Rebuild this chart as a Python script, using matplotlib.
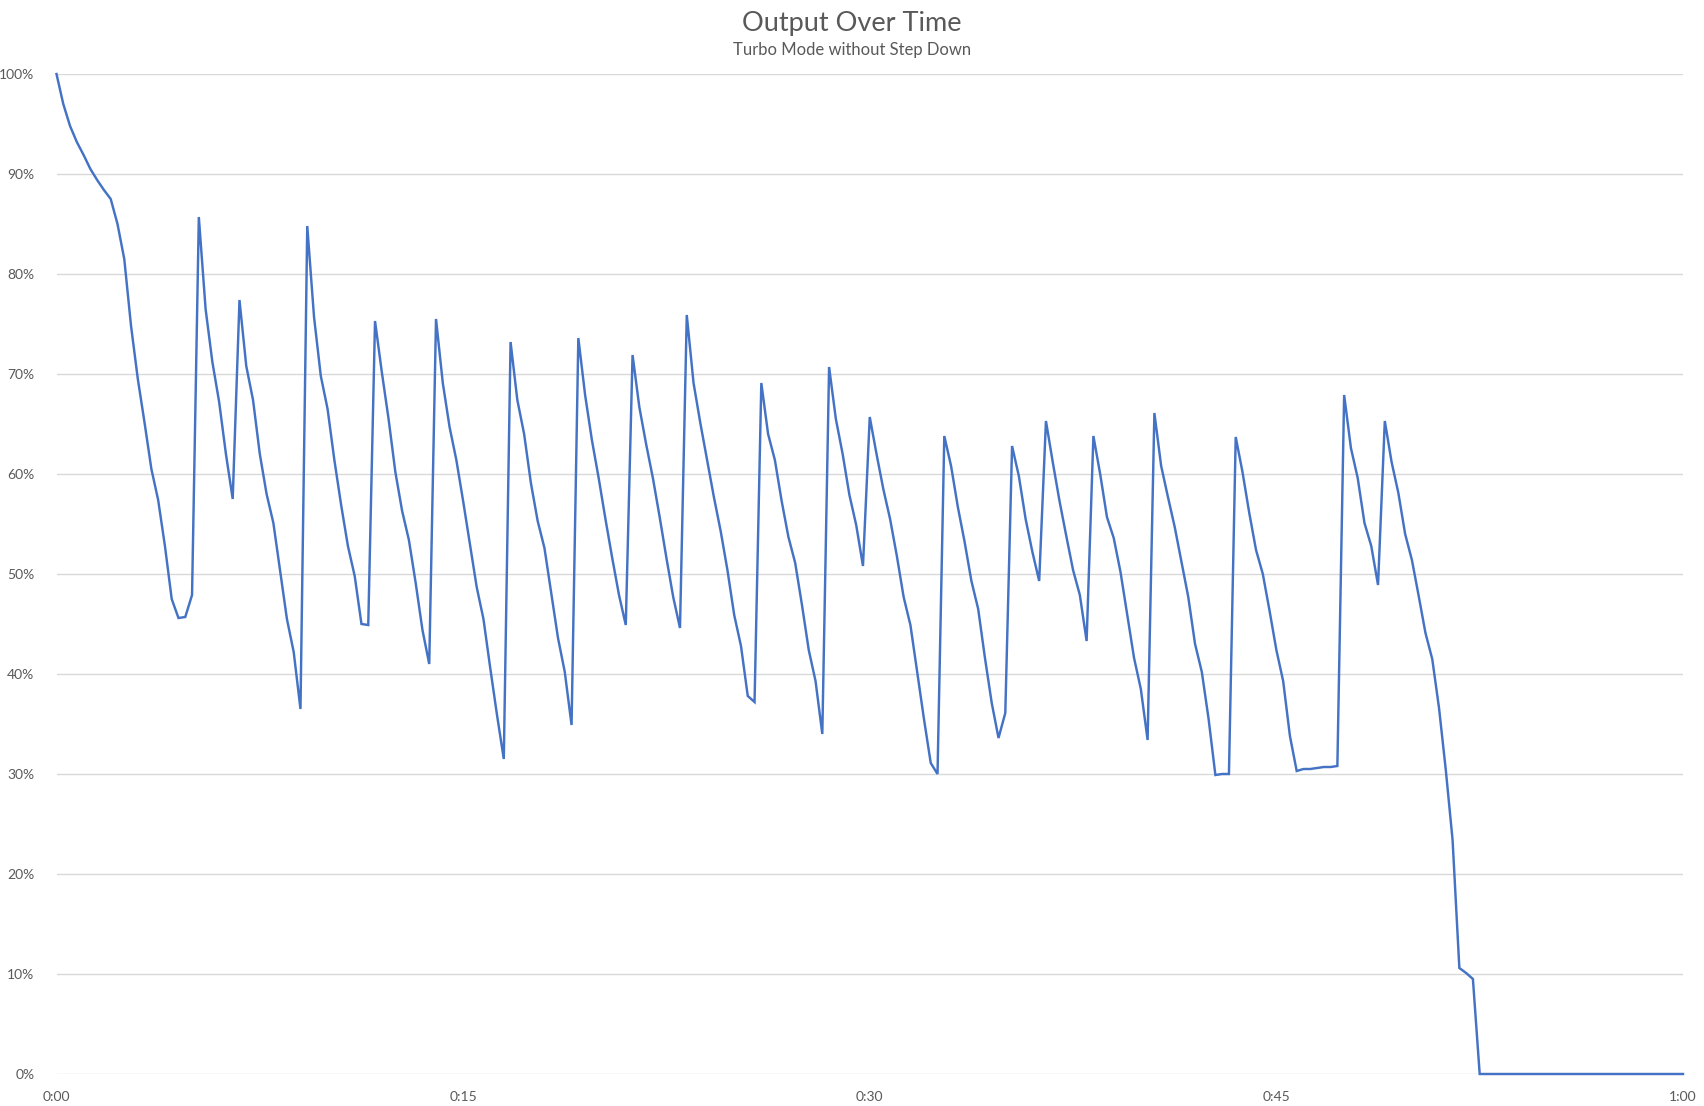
import numpy as np
import matplotlib
matplotlib.use("Agg")
import matplotlib.pyplot as plt
from matplotlib.ticker import FixedLocator, FuncFormatter

# ---- data (output %, one sample every 15 seconds) ----
output_pct = [
    100.0, 97.0, 94.8, 93.2, 91.9, 90.5, 89.4, 88.4, 87.5, 85.0,
    81.5, 74.8, 69.5, 65.1, 60.5, 57.4, 52.8, 47.5, 45.6, 45.7,
    47.9, 85.7, 76.5, 71.2, 67.2, 62.0, 57.5, 77.4, 70.8, 67.4,
    62.0, 58.0, 55.1, 50.3, 45.5, 42.2, 36.5, 84.8, 75.7, 69.8,
    66.5, 61.4, 56.9, 52.8, 49.8, 45.0, 44.9, 75.3, 70.2, 65.5,
    60.2, 56.3, 53.4, 49.1, 44.4, 41.0, 75.5, 69.1, 64.7, 61.4,
    57.3, 53.0, 48.7, 45.5, 40.6, 35.9, 31.5, 73.2, 67.4, 64.0,
    59.1, 55.3, 52.6, 48.1, 43.6, 40.2, 34.9, 73.6, 67.9, 63.4,
    59.6, 55.5, 51.6, 47.9, 44.9, 71.9, 66.7, 63.0, 59.6, 55.7,
    51.6, 47.7, 44.6, 75.9, 69.1, 65.1, 61.4, 57.7, 54.3, 50.4,
    45.9, 42.8, 37.8, 37.2, 69.1, 64.0, 61.4, 57.3, 53.7, 51.1,
    46.9, 42.4, 39.3, 34.0, 70.7, 65.5, 62.0, 57.9, 54.9, 50.8,
    65.7, 62.0, 58.5, 55.5, 51.8, 47.7, 44.9, 40.2, 35.5, 31.1,
    30.0, 63.8, 60.8, 56.7, 53.2, 49.3, 46.5, 41.6, 37.1, 33.6,
    36.1, 62.8, 59.8, 55.5, 52.2, 49.3, 65.3, 61.2, 57.3, 53.8,
    50.4, 47.9, 43.3, 63.8, 60.0, 55.7, 53.6, 50.2, 45.9, 41.6,
    38.5, 33.4, 66.1, 60.8, 57.7, 54.7, 51.2, 47.7, 43.0, 40.2,
    35.5, 29.9, 30.0, 30.0, 63.7, 60.2, 56.1, 52.4, 50.0, 46.3,
    42.4, 39.3, 33.8, 30.3, 30.5, 30.5, 30.6, 30.7, 30.7, 30.8,
    67.9, 62.6, 59.6, 55.1, 52.8, 48.9, 65.3, 61.2, 58.1, 54.0,
    51.4, 47.8, 44.1, 41.5, 36.6, 30.4, 23.4, 10.6, 10.1, 9.5,
    0.0, 0.0, 0.0, 0.0, 0.0, 0.0, 0.0, 0.0, 0.0, 0.0,
    0.0, 0.0, 0.0, 0.0, 0.0, 0.0, 0.0, 0.0, 0.0, 0.0,
    0.0, 0.0, 0.0, 0.0, 0.0, 0.0, 0.0, 0.0, 0.0, 0.0,
    0.0,
]
sample_seconds = 15
x_tick_minutes = [0, 15, 30, 45, 60]
x_tick_labels = ["0:00", "0:15", "0:30", "0:45", "1:00"]
y_ticks = [0, 10, 20, 30, 40, 50, 60, 70, 80, 90, 100]
title = "Output Over Time"
subtitle = "Turbo Mode without Step Down"

# ---- plotting ----
plt.rcParams['font.family'] = ['Lato', 'DejaVu Sans']
text_color = "#595959"
grid_color = "#D9D9D9"
line_color = "#4472C4"

minutes = np.arange(len(output_pct)) * sample_seconds / 60.0
values = np.array(output_pct) / 100.0

W, H = 1704, 1106
fig = plt.figure(figsize=(W / 100, H / 100), dpi=100)
ax = fig.add_axes([56.5 / W, 1 - 1074 / H, (1683 - 56.5) / W, (1074 - 74) / H])

ax.plot(minutes, values, color=line_color, linewidth=1.75, solid_joinstyle="miter",
        clip_on=False)

ax.set_xlim(0, 60)
ax.set_ylim(0, 1.0)
ax.yaxis.set_major_locator(FixedLocator([v / 100 for v in y_ticks]))
ax.yaxis.set_major_formatter(FuncFormatter(lambda v, p: f"{round(v * 100)}%"))
ax.set_xticks(x_tick_minutes)
ax.set_xticklabels(x_tick_labels)

ax.grid(axis="y", color=grid_color, linewidth=1.0)
ax.set_axisbelow(True)
for s in ax.spines.values():
    s.set_visible(False)
ax.tick_params(axis="both", length=0, colors=text_color, labelsize=10)
ax.tick_params(axis="y", pad=16)
ax.tick_params(axis="x", pad=12)

fig.text(0.5, 1 - 23 / H, title, ha="center", va="center", fontsize=19.5, color=text_color)
fig.text(0.5, 1 - 50 / H, subtitle, ha="center", va="center", fontsize=12, color=text_color)

fig.savefig("out.png", dpi=100, facecolor="white")
